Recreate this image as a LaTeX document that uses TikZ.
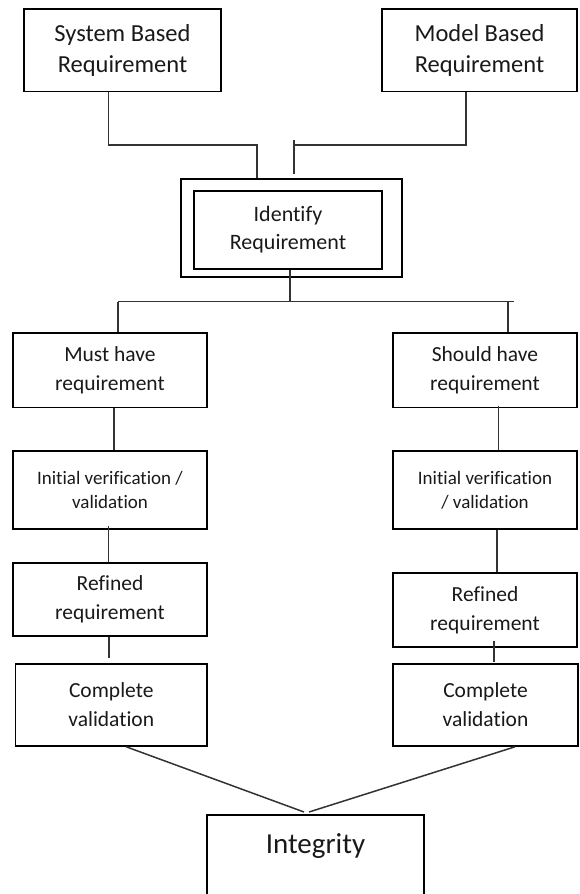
\documentclass[tikz,border=0pt]{standalone}
\usepackage{fontspec}
\setmainfont{Carlito}[Ligatures=NoCommon]
\begin{document}
\begin{tikzpicture}[x=1pt,y=-1pt,
  box/.style={draw=black, line width=1.6pt, align=center, inner sep=0pt, text=black!90},
  conn/.style={draw=black!80, line width=1.5pt},
  fbig/.style={font=\fontsize{24.5}{31}\selectfont},
  fid/.style={font=\fontsize{22}{28}\selectfont},
  fmid/.style={font=\fontsize{21.5}{29}\selectfont},
  fsmall/.style={font=\fontsize{19}{24}\selectfont},
  fhuge/.style={font=\fontsize{29}{34}\selectfont}]
\useasboundingbox (0,0) rectangle (579,894);
\clip (0,0) rectangle (579,894);

% top boxes
\node[box, fbig, minimum width=197pt, minimum height=82.6pt] (sys) at (122.5,50) {System Based\\Requirement};
\node[box, fbig, minimum width=195pt, minimum height=82.6pt] (mod) at (479.5,50) {Model Based\\Requirement};

% identify
\node[box, minimum width=221pt, minimum height=98pt] (outer) at (291.5,228) {};
\node[box, fid, minimum width=188pt, minimum height=78pt] (inner) at (288,230) {Identify\\Requirement};

% left column
\node[box, fmid, minimum width=194pt, minimum height=74.6pt] (must) at (110,370) {Must have\\requirement};
\node[box, fsmall, minimum width=194pt, minimum height=78pt] (initL) at (110,490) {Initial verification /\\validation};
\node[box, fmid, minimum width=194pt, minimum height=73pt] (refL) at (110,599.5) {Refined\\requirement};
\node[box, fmid, minimum width=191.5pt, minimum height=82pt] (compL) at (111.25,705) {Complete\\validation};

% right column
\node[box, fmid, minimum width=184pt, minimum height=74.6pt] (should) at (485,370) {Should have\\requirement};
\node[box, fsmall, minimum width=184pt, minimum height=78pt] (initR) at (485,490) {Initial verification\\/ validation};
\node[box, fmid, minimum width=184pt, minimum height=74pt] (refR) at (485,610) {Refined\\requirement};
\node[box, fmid, minimum width=185pt, minimum height=82pt] (compR) at (485.5,705) {Complete\\validation};

% integrity
\node[box, fhuge, minimum width=217pt, anchor=north, text height=24pt, text depth=70pt, inner ysep=15pt] (integ) at (315.5,814) {Integrity};

% connectors top
\coordinate (ljoin) at (106,145);
\coordinate (rtop) at (294,140);
\coordinate (rbot) at (294,174);
\draw[conn] ([xshift=-14pt]sys.south) |- ([xshift=-34.5pt]outer.north |- ljoin) -- ([xshift=-34.5pt]outer.north);
\draw[conn] ([xshift=-13.5pt]mod.south) |- (rtop |- ljoin);
\draw[conn] (rtop) -- (rbot);

% bus from identify
\coordinate (busL) at (118,301.7);
\coordinate (busR) at (514,301.7);
\draw[conn] ([xshift=2pt]inner.south) -- ([xshift=2pt]inner.south |- busL);
\draw[conn] (busL) -- (busR);
\draw[conn] (busL) -- ([xshift=8pt]must.north);
\draw[conn] (busL -| 508,0) -- ([xshift=23pt]should.north);

% left chain
\draw[conn] ([xshift=4pt]must.south) -- ([xshift=4pt]initL.north);
\draw[conn] ([xshift=-1.5pt,yshift=4pt]initL.south) -- ([xshift=-1.5pt]refL.north);
\draw[conn] ([xshift=-1pt]refL.south) -- ([xshift=-2.25pt,yshift=5pt]compL.north);

% right chain
\draw[conn] ([xshift=13.5pt,yshift=2pt]should.south) -- ([xshift=13.5pt]initR.north);
\draw[conn] ([xshift=12pt]initR.south) -- ([xshift=12pt]refR.north);
\draw[conn] ([xshift=9pt,yshift=7pt]refR.south) -- ([xshift=8.5pt,yshift=1pt]compR.north);

% to integrity
\draw[conn] ([xshift=15pt]compL.south) -- ([xshift=-11.5pt,yshift=2pt]integ.north);
\draw[conn] ([xshift=29.5pt]compR.south) -- ([xshift=-6.5pt,yshift=2pt]integ.north);
\end{tikzpicture}
\end{document}
